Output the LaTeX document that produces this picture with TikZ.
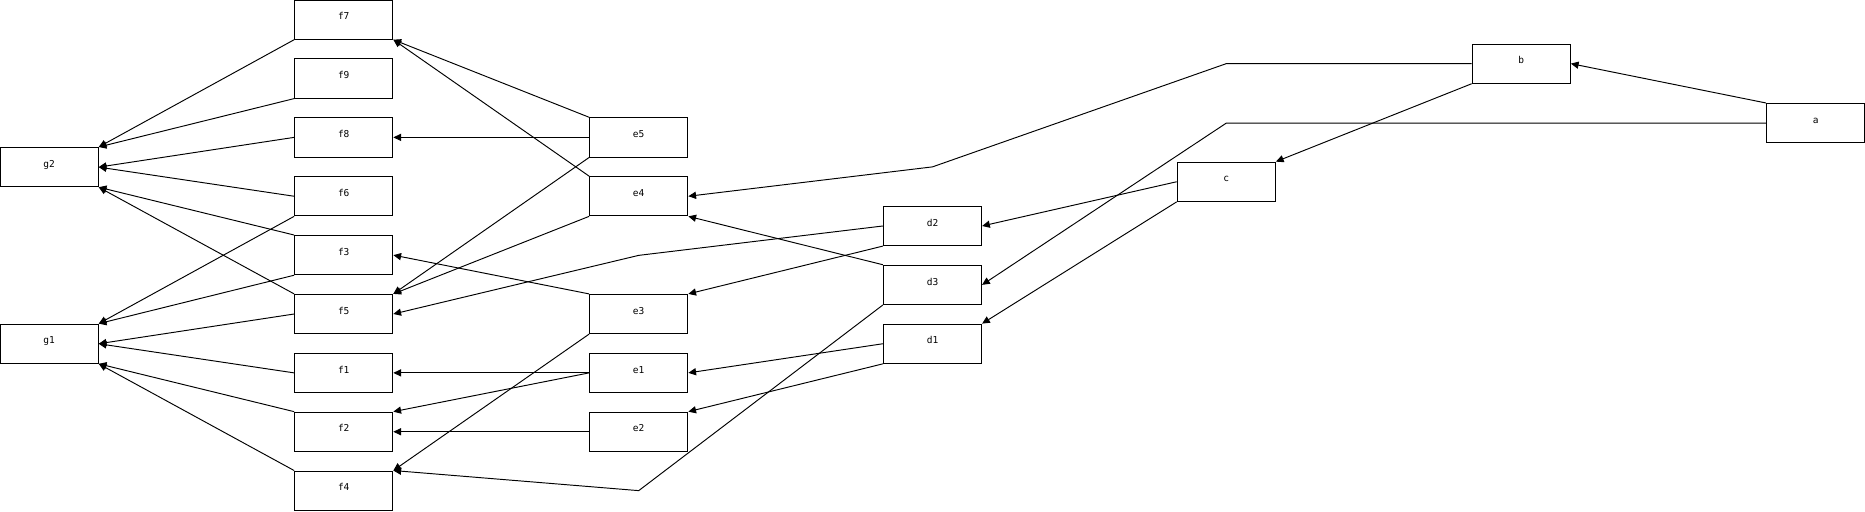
\documentclass[tikz,border=0pt]{standalone}
\usepackage{fontspec}
\setmonofont{DejaVu Sans Mono}
\usetikzlibrary{arrows.meta}
\begin{document}
\begin{tikzpicture}[x=1pt,y=-1pt,
  box/.style={draw=black,line width=0.8pt,rectangle,minimum width=82.6pt,minimum height=33pt,inner sep=0pt,
    font=\ttfamily\fontsize{8}{8}\selectfont,text height=5.9pt,text depth=5.5pt},
  conn/.style={draw=black,line width=0.8pt,-{Triangle[length=6.5pt,width=6pt]}}]
\useasboundingbox (0,0) rectangle (1568,430);
% boxes
\node[box] (g2) at (41.3,140.5) {g2};
\node[box] (g1) at (41.3,289) {g1};
\node[box] (f7) at (289,16.5) {f7};
\node[box] (f9) at (289,66) {f9};
\node[box] (f8) at (289,115.5) {f8};
\node[box] (f6) at (289,165) {f6};
\node[box] (f3) at (289,214.5) {f3};
\node[box] (f5) at (289,264) {f5};
\node[box] (f1) at (289,313.5) {f1};
\node[box] (f2) at (289,363) {f2};
\node[box] (f4) at (289,412.5) {f4};
\node[box] (e5) at (537,115.5) {e5};
\node[box] (e4) at (537,165) {e4};
\node[box] (e3) at (537,264) {e3};
\node[box] (e1) at (537,313.5) {e1};
\node[box] (e2) at (537,363) {e2};
\node[box] (d2) at (784,190) {d2};
\node[box] (d3) at (784,239.5) {d3};
\node[box] (d1) at (784,289) {d1};
\node[box] (c) at (1031,152.8) {c};
\node[box] (b) at (1279,53.5) {b};
\node[box] (a) at (1526.5,103.5) {a};
% bend points
\coordinate (k1) at (537,214.7);
\coordinate (k2) at (537,412.5);
\coordinate (k3) at (784,140.3);
\coordinate (k4) at (1031,53.5);
\coordinate (k5) at (1031,103.5);
% edges into g2
\draw[conn] (f7.south west) -- (g2.north east);
\draw[conn] (f9.south west) -- (g2.north east);
\draw[conn] (f8.west) -- (g2.east);
\draw[conn] (f6.west) -- (g2.east);
\draw[conn] (f3.north west) -- (g2.south east);
\draw[conn] (f5.north west) -- (g2.south east);
% edges into g1
\draw[conn] (f6.south west) -- (g1.north east);
\draw[conn] (f3.south west) -- (g1.north east);
\draw[conn] (f5.west) -- (g1.east);
\draw[conn] (f1.west) -- (g1.east);
\draw[conn] (f2.north west) -- (g1.south east);
\draw[conn] (f4.north west) -- (g1.south east);
% e -> f
\draw[conn] (e5.north west) -- (f7.south east);
\draw[conn] (e5.west) -- (f8.east);
\draw[conn] (e5.south west) -- (f5.north east);
\draw[conn] (e4.north west) -- (f7.south east);
\draw[conn] (e4.south west) -- (f5.north east);
\draw[conn] (e3.north west) -- (f3.east);
\draw[conn] (e3.south west) -- (f4.north east);
\draw[conn] (e1.west) -- (f1.east);
\draw[conn] (e1.west) -- (f2.north east);
\draw[conn] (e2.west) -- (f2.east);
% d -> e / f
\draw[conn] (d2.west) -- (k1) -- (f5.east);
\draw[conn] (d2.south west) -- (e3.north east);
\draw[conn] (d3.north west) -- (e4.south east);
\draw[conn] (d3.south west) -- (k2) -- (f4.north east);
\draw[conn] (d1.west) -- (e1.east);
\draw[conn] (d1.south west) -- (e2.north east);
% c -> d
\draw[conn] (c.west) -- (d2.east);
\draw[conn] (c.south west) -- (d1.north east);
% b
\draw[conn] (b.south west) -- (c.north east);
\draw[conn] (b.west) -- (k4) -- (k3) -- (e4.east);
% a
\draw[conn] (a.north west) -- (b.east);
\draw[conn] (a.west) -- (k5) -- (d3.east);
\end{tikzpicture}
\end{document}
